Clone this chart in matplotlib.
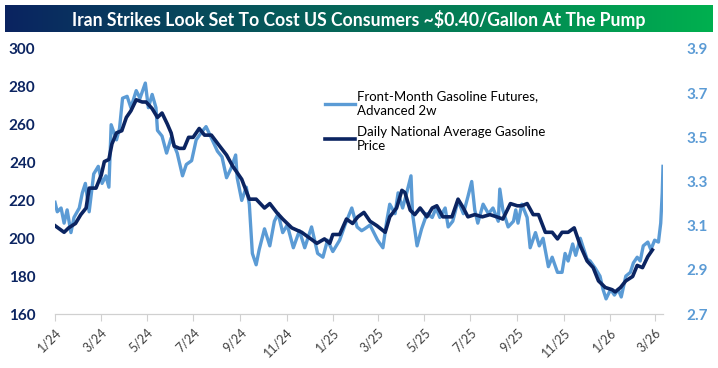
import matplotlib
matplotlib.use("Agg")
import matplotlib.pyplot as plt
import numpy as np
import pandas as pd

# front-month gasoline futures, advanced 2 weeks (cents/gal, left axis)
fut_dates = ["2024-01-01", "2024-01-04", "2024-01-09", "2024-01-13", "2024-01-17", "2024-01-22",
             "2024-01-26", "2024-02-02", "2024-02-06", "2024-02-10", "2024-02-15", "2024-02-21",
             "2024-02-27", "2024-03-03", "2024-03-08", "2024-03-12", "2024-03-15", "2024-03-22",
             "2024-03-26", "2024-03-30", "2024-04-05", "2024-04-10", "2024-04-17", "2024-04-22",
             "2024-04-29", "2024-05-03", "2024-05-08", "2024-05-13", "2024-05-15", "2024-05-21",
             "2024-05-27", "2024-06-02", "2024-06-10", "2024-06-17", "2024-06-22", "2024-06-29",
             "2024-07-05", "2024-07-12", "2024-07-18", "2024-07-25", "2024-08-02", "2024-08-08",
             "2024-08-14", "2024-08-20", "2024-08-26", "2024-08-28", "2024-09-03", "2024-09-09",
             "2024-09-13", "2024-09-17", "2024-09-22", "2024-09-26", "2024-10-03", "2024-10-10",
             "2024-10-16", "2024-10-21", "2024-10-27", "2024-11-02", "2024-11-10", "2024-11-18",
             "2024-11-25", "2024-12-04", "2024-12-12", "2024-12-19", "2024-12-25", "2025-01-01",
             "2025-01-10", "2025-01-17", "2025-01-26", "2025-02-02", "2025-02-08", "2025-02-12",
             "2025-02-19", "2025-03-01", "2025-03-08", "2025-03-13", "2025-03-17", "2025-03-24",
             "2025-03-28", "2025-04-03", "2025-04-09", "2025-04-14", "2025-04-16", "2025-04-22",
             "2025-04-28", "2025-05-05", "2025-05-12", "2025-05-17", "2025-05-22", "2025-05-29",
             "2025-06-02", "2025-06-08", "2025-06-15", "2025-06-22", "2025-06-28", "2025-07-03",
             "2025-07-07", "2025-07-11", "2025-07-18", "2025-07-25", "2025-07-31", "2025-08-07",
             "2025-08-09", "2025-08-13", "2025-08-20", "2025-08-27", "2025-08-30", "2025-09-02",
             "2025-09-07", "2025-09-14", "2025-09-18", "2025-09-25", "2025-09-30", "2025-10-05",
             "2025-10-12", "2025-10-17", "2025-10-24", "2025-10-30", "2025-11-03", "2025-11-07",
             "2025-11-13", "2025-11-17", "2025-11-23", "2025-11-27", "2025-12-02", "2025-12-06",
             "2025-12-13", "2025-12-19", "2025-12-23", "2025-12-27", "2026-01-02", "2026-01-07",
             "2026-01-12", "2026-01-16", "2026-01-22", "2026-01-28", "2026-02-01", "2026-02-06",
             "2026-02-10", "2026-02-14", "2026-02-20", "2026-02-24", "2026-03-01", "2026-03-06",
             "2026-03-09", "2026-03-11", "2026-03-12"]
fut_vals = [219, 214, 216, 208, 215, 203,
            211, 216, 224, 229, 214, 234,
            238, 229, 233, 227, 260, 252,
            258, 274, 275, 269, 278, 274,
            282, 269, 276, 269, 257, 254,
            245, 253, 245, 233, 239, 241,
            252, 256, 259, 253, 246, 243,
            232, 237, 244, 232, 220, 227,
            218, 192, 186, 194, 205, 196,
            209, 213, 203, 207, 195, 204,
            195, 206, 192, 190, 199, 193,
            199, 207, 216, 206, 204, 205,
            207, 199, 195, 209, 218, 213,
            224, 216, 225, 233, 213, 196,
            205, 213, 211, 216, 211, 216,
            206, 209, 220, 213, 222, 230,
            215, 208, 218, 213, 216, 209,
            226, 215, 206, 209, 215, 208,
            218, 211, 195, 203, 196, 200,
            185, 190, 182, 182, 192, 188,
            197, 191, 200, 195, 189, 188,
            184, 180, 173, 168, 173, 170,
            173, 169, 180, 182, 187, 190,
            188, 196, 198, 194, 199, 198,
            208, 224, 238]

# daily national average gasoline price ($/gal, right axis)
ret_dates = ["2024-01-01", "2024-01-13", "2024-01-19", "2024-01-28", "2024-02-04", "2024-02-11",
             "2024-02-15", "2024-02-24", "2024-03-02", "2024-03-06", "2024-03-12", "2024-03-16",
             "2024-03-22", "2024-03-29", "2024-04-04", "2024-04-10", "2024-04-17", "2024-04-25",
             "2024-04-30", "2024-05-08", "2024-05-15", "2024-05-21", "2024-05-28", "2024-06-02",
             "2024-06-06", "2024-06-13", "2024-06-19", "2024-06-25", "2024-07-01", "2024-07-09",
             "2024-07-16", "2024-07-25", "2024-08-05", "2024-08-14", "2024-08-22", "2024-09-03",
             "2024-09-13", "2024-09-22", "2024-10-03", "2024-10-10", "2024-10-19", "2024-10-27",
             "2024-11-08", "2024-11-21", "2024-11-29", "2024-12-11", "2024-12-21", "2024-12-28",
             "2025-01-01", "2025-01-10", "2025-01-19", "2025-01-27", "2025-02-03", "2025-02-11",
             "2025-02-19", "2025-02-28", "2025-03-11", "2025-03-17", "2025-03-26", "2025-04-02",
             "2025-04-06", "2025-04-13", "2025-04-19", "2025-04-26", "2025-05-05", "2025-05-12",
             "2025-05-18", "2025-05-26", "2025-06-07", "2025-06-15", "2025-06-22", "2025-06-28",
             "2025-07-07", "2025-07-17", "2025-07-27", "2025-08-05", "2025-08-13", "2025-08-23",
             "2025-09-01", "2025-09-07", "2025-09-14", "2025-09-22", "2025-09-29", "2025-10-08",
             "2025-10-17", "2025-10-24", "2025-10-30", "2025-11-07", "2025-11-15", "2025-11-23",
             "2025-12-02", "2025-12-10", "2025-12-17", "2025-12-26", "2026-01-04", "2026-01-08",
             "2026-01-15", "2026-01-22", "2026-01-31", "2026-02-06", "2026-02-13", "2026-02-20",
             "2026-02-26"]
ret_vals = [3.10, 3.07, 3.09, 3.11, 3.15, 3.18,
            3.27, 3.27, 3.33, 3.39, 3.40, 3.47,
            3.52, 3.53, 3.59, 3.62, 3.67, 3.66,
            3.66, 3.63, 3.59, 3.61, 3.56, 3.52,
            3.46, 3.45, 3.45, 3.50, 3.50, 3.54,
            3.51, 3.51, 3.46, 3.42, 3.37, 3.31,
            3.22, 3.22, 3.18, 3.20, 3.16, 3.13,
            3.09, 3.07, 3.05, 3.02, 3.04, 3.02,
            3.06, 3.06, 3.13, 3.11, 3.14, 3.16,
            3.12, 3.10, 3.07, 3.14, 3.18, 3.26,
            3.25, 3.17, 3.15, 3.18, 3.14, 3.18,
            3.19, 3.14, 3.14, 3.22, 3.18, 3.14,
            3.15, 3.14, 3.15, 3.14, 3.13, 3.20,
            3.19, 3.19, 3.20, 3.15, 3.15, 3.07,
            3.07, 3.04, 3.07, 3.07, 3.09, 3.01,
            2.94, 2.91, 2.85, 2.82, 2.81, 2.80,
            2.82, 2.85, 2.87, 2.92, 2.91, 2.96,
            2.99]

tick_dates = ["2024-01-01", "2024-03-01", "2024-05-01", "2024-07-01", "2024-09-01", "2024-11-01",
              "2025-01-01", "2025-03-01", "2025-05-01", "2025-07-01", "2025-09-01", "2025-11-01",
              "2026-01-01", "2026-03-01"]
tick_labels = ["1/24", "3/24", "5/24", "7/24", "9/24", "11/24", "1/25", "3/25", "5/25", "7/25",
               "9/25", "11/25", "1/26", "3/26"]
left_ticks = [160, 180, 200, 220, 240, 260, 280, 300]
right_ticks = [2.7, 2.9, 3.1, 3.3, 3.5, 3.7, 3.9]

title = "Iran Strikes Look Set To Cost US Consumers ~$0.40/Gallon At The Pump"
light = "#5b9bd5"
navy = "#0b2461"

plt.rcParams['font.family'] = ['Lato', 'DejaVu Sans']

fig = plt.figure(figsize=(7.18, 3.68), dpi=100)

# gradient title banner
bax = fig.add_axes([5/718, 1 - 32/368, 708/718, 27/368])
c0 = np.array([0.04, 0.14, 0.38])
c1 = np.array([0.0, 0.69, 0.31])
t = np.linspace(0, 1, 256)[None, :, None]
grad = c0 + (c1 - c0) * t
bax.imshow(grad, aspect='auto', extent=[0, 1, 0, 1])
bax.set_axis_off()
bax.text(0.5, 0.47, title, color='white', fontsize=12.7, fontweight='bold',
         ha='center', va='center', transform=bax.transAxes)

ax = fig.add_axes([55/718, 1 - 314/368, 608/718, 265/368])
ax2 = ax.twinx()

fd = pd.to_datetime(fut_dates)
rd = pd.to_datetime(ret_dates)
l1, = ax.plot(fd, fut_vals, color=light, lw=2.4, solid_joinstyle='round')
l2, = ax2.plot(rd, ret_vals, color=navy, lw=2.6, solid_joinstyle='round')

ax.set_ylim(160, 300)
ax2.set_ylim(2.7, 3.9)
ax.set_xlim(pd.Timestamp("2024-01-01"), pd.Timestamp("2026-03-12"))

ax.set_yticks(left_ticks)
ax.set_yticklabels([str(v) for v in left_ticks], color=navy, fontweight='bold', fontsize=11)
ax2.set_yticks(right_ticks)
ax2.set_yticklabels([f"{v:.1f}" for v in right_ticks], color=light, fontweight='bold', fontsize=11)
ax.tick_params(axis='y', length=0, pad=14)
ax2.tick_params(axis='y', length=0, pad=17)

ax.set_xticks(pd.to_datetime(tick_dates))
ax.set_xticklabels(tick_labels, rotation=45, ha='right', rotation_mode='anchor',
                   fontsize=9, color='#404040')
ax.tick_params(axis='x', length=5, color='#d0d0d0', pad=4)

for a in (ax, ax2):
    for s in ('top', 'left', 'right'):
        a.spines[s].set_visible(False)
    a.spines['bottom'].set_color('#d0d0d0')
    a.set_facecolor('none')

ax2.legend([l1, l2], ["Front-Month Gasoline Futures,\nAdvanced 2w",
                      "Daily National Average Gasoline\nPrice"],
           loc='upper left', bbox_to_anchor=(318/718, 1 - 84/368), bbox_transform=fig.transFigure,
           frameon=False, fontsize=9.5, handlelength=2.3, handletextpad=0.15, labelspacing=0.7,
           borderpad=0)

fig.savefig("out.png", dpi=100)
